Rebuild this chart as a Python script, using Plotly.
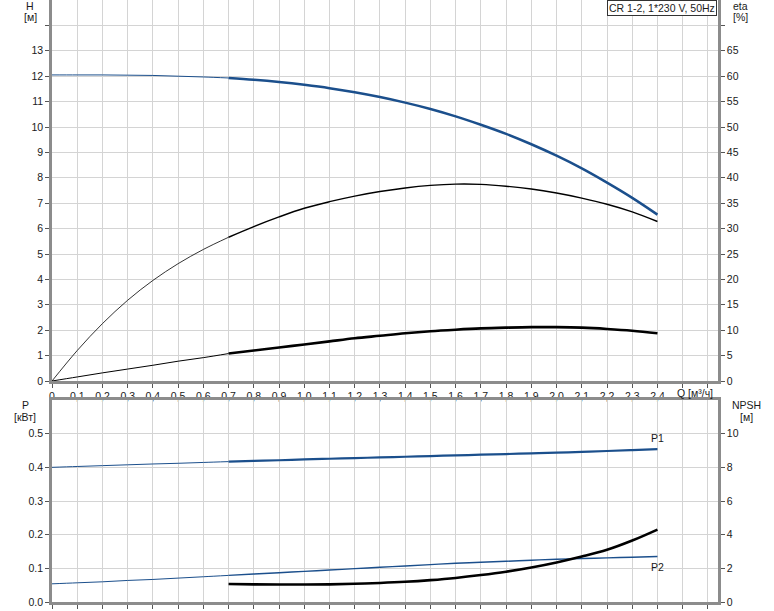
import plotly.graph_objects as go

# ---------------- data ----------------
Q = [0, 0.1, 0.2, 0.3, 0.4, 0.5, 0.6, 0.7, 0.8, 0.9, 1.0, 1.1, 1.2, 1.3, 1.4,
     1.5, 1.6, 1.7, 1.8, 1.9, 2.0, 2.1, 2.2, 2.3, 2.4]
H = [12.05, 12.05, 12.05, 12.04, 12.03, 12.0, 11.97, 11.93, 11.86, 11.77, 11.66,
     11.53, 11.37, 11.18, 10.96, 10.71, 10.42, 10.09, 9.73, 9.32, 8.87, 8.37,
     7.81, 7.21, 6.55]
ETA = [0, 6.0, 11.3, 15.9, 19.8, 23.1, 25.9, 28.3, 30.4, 32.3, 34.0, 35.3, 36.4,
       37.3, 38.0, 38.5, 38.75, 38.7, 38.35, 37.8, 37.0, 36.0, 34.8, 33.3, 31.4]
ETA_TOT = [0, 0.8, 1.6, 2.35, 3.1, 3.9, 4.6, 5.4, 6.0, 6.6, 7.2, 7.8, 8.4, 8.9,
           9.4, 9.8, 10.1, 10.35, 10.5, 10.6, 10.6, 10.5, 10.25, 9.9, 9.4]
P1 = [0.400, 0.4025, 0.405, 0.4075, 0.410, 0.412, 0.4145, 0.417, 0.419, 0.421,
      0.4235, 0.4255, 0.4275, 0.4295, 0.4315, 0.4335, 0.4355, 0.4375, 0.4395,
      0.4415, 0.4435, 0.446, 0.4485, 0.4512, 0.454]
P2 = [0.054, 0.057, 0.060, 0.064, 0.067, 0.071, 0.075, 0.079, 0.083, 0.087,
      0.091, 0.095, 0.099, 0.103, 0.107, 0.111, 0.115, 0.118, 0.121, 0.124,
      0.127, 0.129, 0.131, 0.133, 0.135]
Q_NPSH = [0.7, 0.8, 0.9, 1.0, 1.1, 1.2, 1.3, 1.4, 1.5, 1.6, 1.7, 1.8, 1.9, 2.0,
          2.1, 2.2, 2.3, 2.4]
NPSH = [1.07, 1.05, 1.04, 1.04, 1.05, 1.08, 1.13, 1.2, 1.3, 1.43, 1.6, 1.8, 2.05,
        2.35, 2.7, 3.1, 3.65, 4.3]

X_TICKS = [round(i * 0.1, 1) for i in range(27)]
X_LABELS = [("0" if v == 0 else f"{v:.1f}".replace(".", ",")) if v <= 2.4 else ""
            for v in X_TICKS]
H_TICKS = list(range(0, 15))
H_LABELS = [str(v) if v <= 13 else "" for v in H_TICKS]
ETA_TICKS = list(range(0, 75, 5))
ETA_LABELS = [str(v) if v <= 65 else "" for v in ETA_TICKS]
P_TICKS = [0.0, 0.1, 0.2, 0.3, 0.4, 0.5]
P_LABELS = ["0.0", "0.1", "0.2", "0.3", "0.4", "0.5"]
NPSH_TICKS = [0, 2, 4, 6, 8, 10]

TITLE = "CR 1-2, 1*230 V, 50Hz"

BLUE = "#1b4f8c"
BLACK = "#000000"
GRID = "#d4d4d4"
AXIS = "#8c8c8c"
TXT = "#1a1a1a"
FONT = "Liberation Sans, Arial, sans-serif"
FS = 10.5

SPLIT = Q.index(0.7)

fig = go.Figure()


def add_split(y, xa, ya, color, thin_w, thick_w):
    fig.add_trace(go.Scatter(x=Q[:SPLIT + 1], y=y[:SPLIT + 1], mode="lines",
                             line=dict(color=color, width=thin_w, shape="spline"),
                             xaxis=xa, yaxis=ya, showlegend=False, hoverinfo="skip"))
    fig.add_trace(go.Scatter(x=Q[SPLIT:], y=y[SPLIT:], mode="lines",
                             line=dict(color=color, width=thick_w, shape="spline"),
                             xaxis=xa, yaxis=ya, showlegend=False, hoverinfo="skip"))


# top panel
add_split(H, "x", "y", BLUE, 1, 2.5)
add_split(ETA, "x", "y2", BLACK, 0.8, 1.4)
add_split(ETA_TOT, "x", "y2", BLACK, 1, 2.6)
# bottom panel
add_split(P1, "x2", "y3", BLUE, 1, 2.2)
add_split(P2, "x2", "y3", BLUE, 1, 1.4)
fig.add_trace(go.Scatter(x=Q_NPSH, y=NPSH, mode="lines",
                         line=dict(color=BLACK, width=2.6, shape="spline"),
                         xaxis="x2", yaxis="y4", showlegend=False, hoverinfo="skip"))

TOP_DOM = [1 - 381 / 602, 1]
BOT_DOM = [0, 202 / 602]
XR = [0, 2.64]

tfont = dict(size=FS, color=TXT, family=FONT)
common_x = dict(range=XR, tickvals=X_TICKS, showgrid=True, gridcolor=GRID,
                gridwidth=1, showline=True, linecolor=AXIS, linewidth=2.5,
                mirror=True, zeroline=False, ticks="outside", ticklen=4,
                tickcolor="#555555", tickfont=tfont)
common_y = dict(showline=True, linecolor=AXIS, linewidth=2.5, zeroline=False,
                ticks="outside", ticklen=4, tickcolor="#555555", tickfont=tfont)

fig.update_layout(
    width=774, height=611,
    margin=dict(l=52, r=56, t=0, b=9, autoexpand=False),
    paper_bgcolor="white", plot_bgcolor="white",
    font=dict(family=FONT, size=FS, color=TXT),
    xaxis=dict(**common_x, ticktext=X_LABELS, domain=[0, 1], anchor="y"),
    xaxis2=dict(**common_x, ticktext=["" for _ in X_TICKS], domain=[0, 1],
                anchor="y3", matches="x"),
    yaxis=dict(**common_y, range=[0, 15], domain=TOP_DOM, tickvals=H_TICKS,
               ticktext=H_LABELS, showgrid=True, gridcolor=GRID, anchor="x"),
    yaxis2=dict(**common_y, range=[0, 75], overlaying="y", side="right",
                tickvals=ETA_TICKS, ticktext=ETA_LABELS, showgrid=False, anchor="x"),
    yaxis3=dict(**common_y, range=[0, 0.6], domain=BOT_DOM, tickvals=P_TICKS,
                ticktext=P_LABELS, showgrid=True, gridcolor=GRID, anchor="x2"),
    yaxis4=dict(**common_y, range=[0, 12], overlaying="y3", side="right",
                tickvals=NPSH_TICKS, showgrid=False, anchor="x2"),
)


def px_x(px):
    return (px - 52) / 666


def px_y(py):
    return (602 - py) / 602


labels = [
    ("H", 30, 6), ("[м]", 30, 17),
    ("eta", 740, 6), ("[%]", 740, 17),
    ("P", 25, 405), ("[кВт]", 25, 417),
    ("NPSH", 746, 405), ("[м]", 746, 417),
    ("Q [м³/ч]", 695, 393),
]
for text, x, y in labels:
    fig.add_annotation(text=text, x=px_x(x), y=px_y(y), xref="paper", yref="paper",
                       showarrow=False, xanchor="center", yanchor="middle",
                       font=tfont)

fig.add_annotation(text="P1", x=Q[-1], y=P1[-1], xref="x2", yref="y3", yshift=11,
                   showarrow=False, font=tfont)
fig.add_annotation(text="P2", x=Q[-1], y=P2[-1], xref="x2", yref="y3", yshift=-10,
                   showarrow=False, font=tfont)

fig.add_annotation(text=TITLE, x=px_x(717), y=1, xref="paper", yref="paper",
                   xanchor="right", yanchor="top", showarrow=False,
                   bgcolor="white", bordercolor="#333333", borderwidth=1, borderpad=1,
                   font=tfont)

fig.write_html("out.html",
               config={"displayModeBar": False},
               post_script="document.body.style.margin='0';"
                           "document.body.style.padding='0';")
